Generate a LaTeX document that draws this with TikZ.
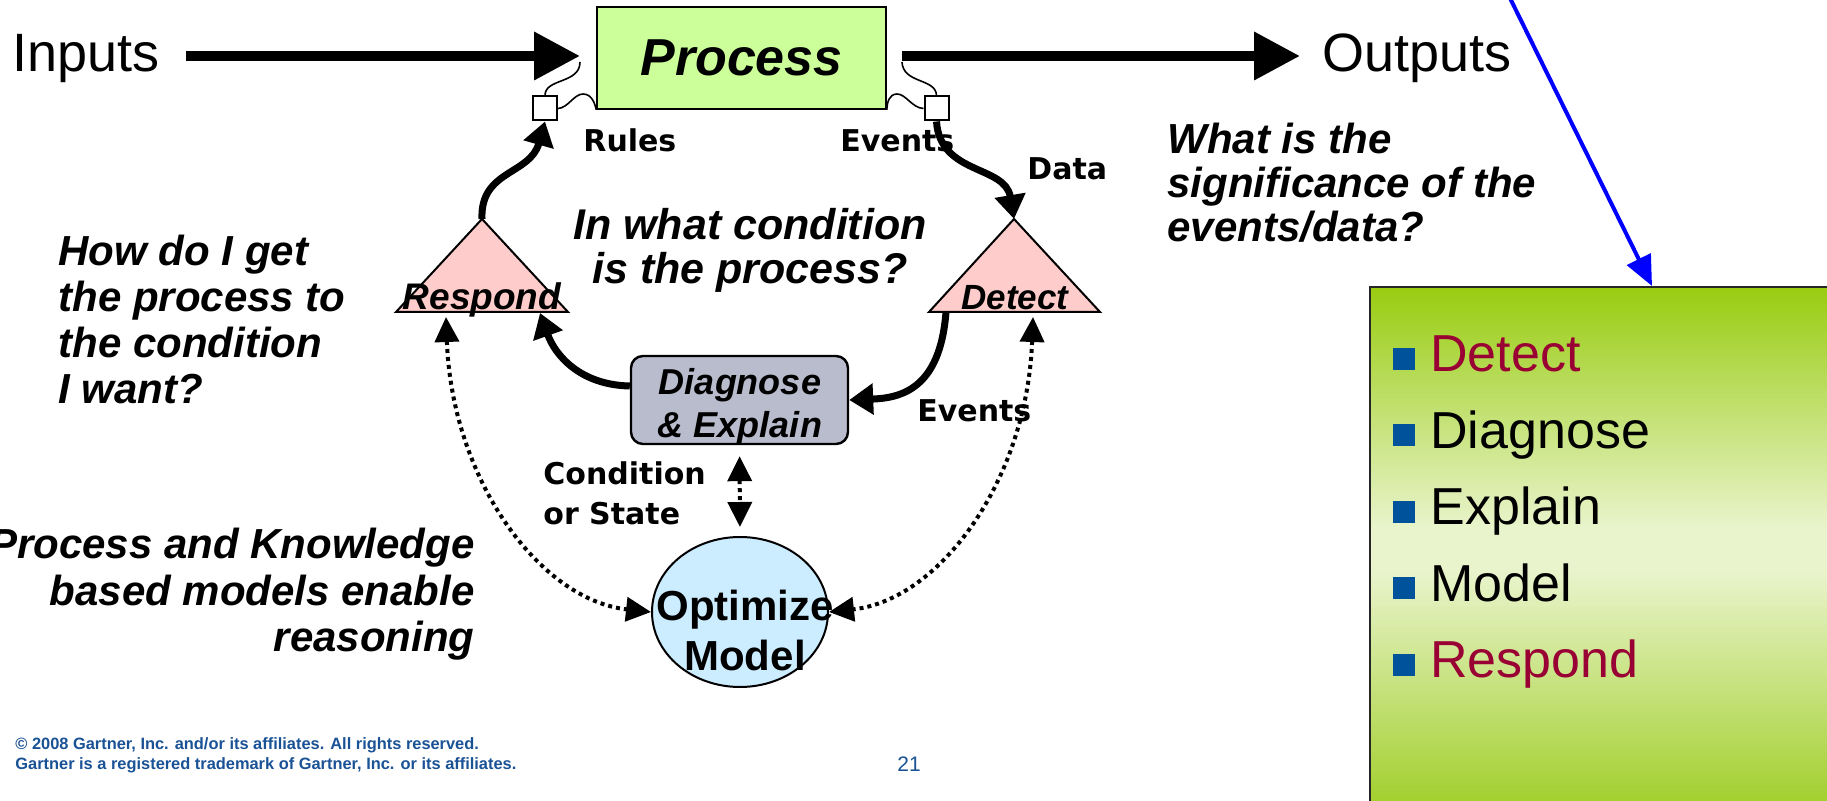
\documentclass[tikz,border=0pt]{standalone}
\usepackage{fontspec}
\setmainfont{Liberation Sans}
\newfontfamily\vfont{DejaVu Sans}
\usetikzlibrary{arrows.meta,shapes.geometric}

\definecolor{procgreen}{RGB}{204,255,153}
\definecolor{trifill}{RGB}{255,204,204}
\definecolor{diagfill}{RGB}{184,188,204}
\definecolor{optfill}{RGB}{204,236,255}
\definecolor{bulletblue}{RGB}{0,82,155}
\definecolor{listred}{RGB}{153,0,51}
\definecolor{footblue}{RGB}{26,82,150}
\definecolor{panelTop}{RGB}{153,204,17}
\definecolor{panelMid}{RGB}{233,244,204}
\definecolor{panelBot}{RGB}{160,206,40}
% the shaded path is mapped onto the 25bp--75bp band of the shading
\pgfdeclareverticalshading{panelgrad}{100bp}{color(0bp)=(panelBot); color(25bp)=(panelBot);
  color(48bp)=(panelMid); color(52bp)=(panelMid); color(75bp)=(panelTop); color(100bp)=(panelTop)}

\newcommand\fsz[2]{\fontsize{#1}{#2}\selectfont}

\tikzset{
  bigarrow/.style={line width=5pt, -{Triangle[length=23pt,width=23pt]}},
  thickarrow/.style={line width=3.5pt, -{Triangle[length=12pt,width=15pt]}},
  dotarrow/.style={line width=2pt, dash pattern=on 2pt off 2pt,
    {Triangle[length=12.5pt,width=12pt]}-{Triangle[length=12.5pt,width=12pt]}},
  thinline/.style={line width=0.8pt},
  bluearrow/.style={draw=blue, line width=2pt, -{Triangle[length=15pt,width=13pt]}},
  port/.style={draw, line width=1pt, fill=white, minimum size=12pt, inner sep=0pt},
  tri/.style={fill=trifill, draw=black, line width=1pt, line join=miter},
  procbox/.style={draw, line width=0.8pt, fill=procgreen, minimum width=144.5pt,
    minimum height=51pt, inner sep=0pt, font=\fsz{26}{30}\bfseries\itshape},
  diagbox/.style={draw, line width=1.2pt, fill=diagfill, rounded corners=6pt,
    minimum width=108.5pt, minimum height=44pt, inner sep=0pt},
  optell/.style={ellipse, draw, line width=1pt, fill=optfill,
    minimum width=88pt, minimum height=75pt, inner sep=0pt},
  qtext/.style={font=\fsz{21}{23}\bfseries\itshape, inner sep=0pt},
  lbl/.style={font=\vfont\fsz{15}{20}\bfseries, inner sep=0pt},
  bigword/.style={font=\fsz{27}{30}, inner sep=0pt},
  listitem/.style={font=\fsz{26}{30}, inner sep=0pt, anchor=base west},
  bulletsq/.style={fill=bulletblue, minimum width=11pt, minimum height=11pt,
    inner sep=0pt, anchor=south west},
}

\begin{document}
\begin{tikzpicture}[x=0.5pt,y=-0.5pt]
\useasboundingbox (0,0) rectangle (1827,801);
\clip (0,0) rectangle (1827,801);

% right-hand panel with the list
\node[draw=black!85, line width=1.2pt, shading=panelgrad, anchor=north west,
      minimum width=235.5pt, minimum height=262.5pt, inner sep=0pt] (panel) at (1369,286) {};
\foreach \n/\t/\c/\y in {1/Detect/listred/372, 2/Diagnose/black/448.5,
                         3/Explain/black/525, 4/Model/black/601.5, 5/Respond/listred/678} {
  \node[bulletsq] (b\n) at (1393,{\y-2}) {};
  \node[listitem, text=\c] (item\n) at (1430,\y) {\t};
}

% process box and its ports
\node[procbox] (proc) at (741.5,58) {Process};
\node[port] (sqL) at (545,108.5) {};
\node[port] (sqR) at (936.5,108.5) {};

% inputs and outputs
\node[bigword, anchor=base west] (inputs) at (12,72) {Inputs};
\node[bigword, anchor=base west] (outputs) at (1322,72) {Outputs};
\coordinate (inTail) at (186,56);
\coordinate (inTip) at (580,56);
\coordinate (outTail) at (902,56);
\coordinate (outTip) at (1300,56);

% thin wires from the ports
\draw[thinline] (sqL.east) .. controls (568,108) and (574,94) .. (583,94)
  .. controls (592,94) and (595,104) .. (proc.south west);
\draw[thinline] (sqL.north) .. controls (545,78) and (580,84) .. ([yshift=-3pt]inTip);
\draw[thinline] (sqR.west) .. controls (912,108) and (906,94) .. (897,94)
  .. controls (889,94) and (887,103) .. (proc.south east);
\draw[thinline] (sqR.north) .. controls (936,78) and (903,84) .. ([yshift=-3pt]outTail);
\node[port] at (sqL) {};
\node[port] at (sqR) {};

\draw[bigarrow] (inTail) -- (inTip);
\draw[bigarrow] (outTail) -- (outTip);

% respond and detect triangles
\coordinate (rA) at (482,219);
\coordinate (rL) at (396,312);
\coordinate (rR) at (568,312);
\coordinate (dA) at (1014,219);
\coordinate (dL) at (929,312);
\coordinate (dR) at (1100,312);
\filldraw[tri] (rA) -- (rR) -- (rL) -- cycle;
\filldraw[tri] (dA) -- (dR) -- (dL) -- cycle;
\node[font=\fsz{18.5}{20}\bfseries\itshape, inner sep=0pt, anchor=base] (respond) at (482,310) {Respond};
\node[font=\fsz{17.5}{20}\bfseries\itshape, inner sep=0pt, anchor=base] (detect) at (1015,310) {Detect};

% diagnose box and model ellipse
\node[diagbox] (diag) at (739.5,400) {};
\node[font=\fsz{18}{21.5}\bfseries\itshape, align=center, inner sep=0pt, anchor=north]
  (diagLabel) at (740,368) {Diagnose\\\& Explain};
\node[optell] (opt) at (740,612) {};
\node[font=\fsz{21}{25}\bfseries, align=center, inner sep=0pt, anchor=north]
  (optLabel) at (745,589.5) {Optimize\\Model};

% main loop
\coordinate (dStart) at (946,312);
\coordinate (rIn) at (540,313);
\draw[thickarrow] (rA) .. controls (480,170) and (530,175) .. (sqL.south);
\draw[thickarrow] (sqR.south) .. controls (940,175) and (1005,165) .. (dA);
\draw[thickarrow] (dStart) .. controls (940,390) and (900,398) .. (diag.east);
\draw[thickarrow] ([yshift=7pt]diag.west) .. controls (580,385) and (555,355) .. (rIn);

% model links
\coordinate (rDot) at (446,317);
\coordinate (dDot) at (1033,317);
\draw[dotarrow] (rDot) .. controls (452,480) and (540,600) .. (opt.west);
\draw[dotarrow] (dDot) .. controls (1027,480) and (940,600) .. (opt.east);
\draw[dotarrow, shorten <=5.5pt, shorten >=4.5pt] (diag.south) -- (opt.north);

% small labels
\node[lbl, anchor=base west] (rules) at (583,152) {Rules};
\node[lbl, anchor=base west] (eventsTop) at (840,152) {Events};
\node[lbl, anchor=base west] (data) at (1027,180) {Data};
\node[lbl, anchor=base west] (eventsLow) at (917,422) {Events};
\node[lbl, align=left, anchor=north west] (cond) at (543,461) {Condition\\or State};

% questions
\node[qtext, align=left, anchor=north west] (qHow) at (58,235)
  {How do I get\\the process to\\the condition\\I want?};
\node[qtext, font=\fsz{21}{23.25}\bfseries\itshape, align=right, anchor=north east] (qModels) at (475,528)
  {Process and Knowledge\\based models enable\\reasoning};
\node[qtext, font=\fsz{21.5}{22}\bfseries\itshape, align=center, anchor=north] (qCond) at (750,208)
  {In what condition\\is the process?};
\node[qtext, font=\fsz{21}{22}\bfseries\itshape, align=left, anchor=north west] (qSig) at (1167,123)
  {What is the\\significance of the\\events/data?};

% pointer to the panel
\coordinate (blueStart) at (1505,-12);
\draw[bluearrow] (blueStart) -- (1652,0 |- panel.north);

% footer
\node[font=\fsz{8.2}{10}\bfseries, text=footblue, align=left, inner sep=0pt, anchor=north west]
  (footer) at (15,737.5)
  {© 2008 Gartner, Inc. and/or its affiliates. All rights reserved.\\
   Gartner is a registered trademark of Gartner, Inc. or its affiliates.};
\node[font=\fsz{10.5}{12}, text=footblue, inner sep=0pt, anchor=base west] (pageno) at (897,772) {21};
\end{tikzpicture}
\end{document}
